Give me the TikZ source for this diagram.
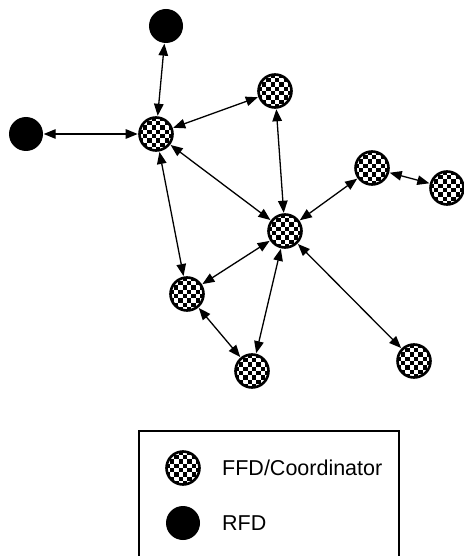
\documentclass[tikz,border=0pt]{standalone}
\usepackage{fontspec}
\setmainfont{Liberation Sans}
\usetikzlibrary{arrows.meta}
\tikzset{
  x=1pt, y=-1pt,
  ffd/.style={circle, draw, line width=2.6pt, minimum size=33pt, inner sep=0pt, fill=white,
    path picture={
      \foreach \i in {-4,...,3}{\foreach \j in {-4,...,3}{
        \pgfmathtruncatemacro\pp{mod(\i+\j+10,2)}
        \ifnum\pp=0
          \fill[black] ([shift={(\i*4.3pt,\j*4.3pt)}]path picture bounding box.center) rectangle ++(4.3pt,4.3pt);
        \fi}}
    }},
  rfd/.style={circle, fill=black, minimum size=34pt, inner sep=0pt},
  link/.style={line width=1.3pt, {Triangle[length=12pt,width=9.5pt]}-{Triangle[length=12pt,width=9.5pt]}, shorten <=0.5pt, shorten >=0.5pt},
  lbl/.style={anchor=west, inner sep=0pt, font=\fontsize{21.5}{25}\selectfont},
  legendbox/.style={line width=1.8pt}
}
\begin{document}
\begin{tikzpicture}
\useasboundingbox (0,0) rectangle (463,556);
% nodes
\node[rfd] (r1) at (166,26) {};
\node[rfd] (r2) at (26,134) {};
\node[ffd] (c1) at (156,134) {};
\node[ffd] (c2) at (275,91) {};
\node[ffd] (c3) at (285,231) {};
\node[ffd] (c4) at (372,168) {};
\node[ffd] (c5) at (447,188) {};
\node[ffd] (c6) at (187,294) {};
\node[ffd] (c7) at (252,371) {};
\node[ffd] (c8) at (414,361) {};
% links
\draw[link] (r1) -- (c1);
\draw[link] (r2) -- (c1);
\draw[link] (c1) -- (c2);
\draw[link] (c1) -- (c3);
\draw[link] (c1) -- (c6);
\draw[link] (c2) -- (c3);
\draw[link] (c3) -- (c4);
\draw[link] (c4) -- (c5);
\draw[link] (c3) -- (c6);
\draw[link] (c3) -- (c7);
\draw[link] (c3) -- (c8);
\draw[link] (c6) -- (c7);
% legend
\coordinate (bl) at (139,557);
\coordinate (tl) at (139,431);
\coordinate (tr) at (399,431);
\coordinate (br) at (399,557);
\draw[legendbox] (bl) -- (tl) -- (tr) -- (br);
\node[ffd] (lf) at (183,468) {};
\node[rfd] (lr) at (183,523) {};
\node[lbl] (tf) at (222,468) {FFD/Coordinator};
\node[lbl] (tr2) at (222,523) {RFD};
\end{tikzpicture}
\end{document}
